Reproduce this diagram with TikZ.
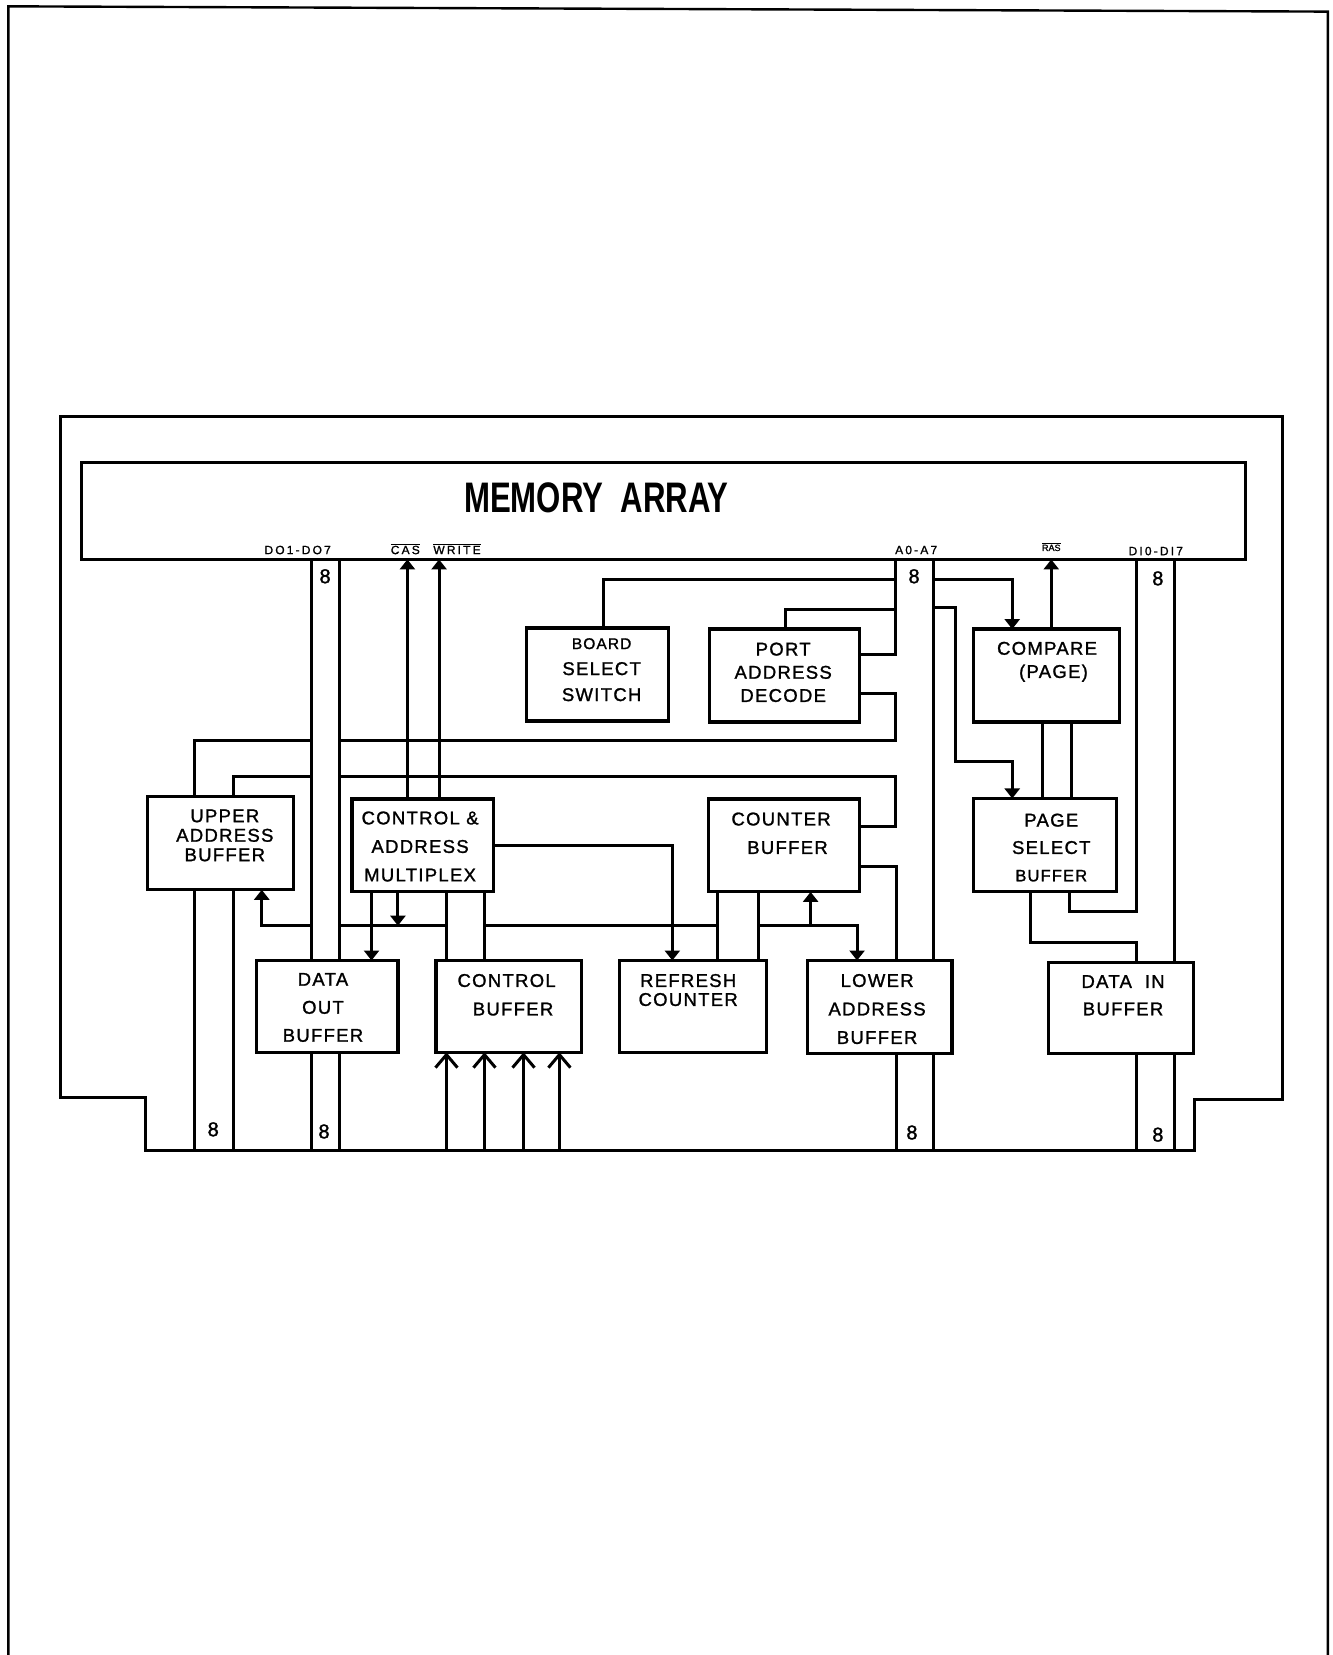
\documentclass[tikz,border=0pt]{standalone}
\usepackage{graphicx}
\usepackage{fontspec}
\setmainfont{Liberation Sans}
\newfontfamily\lblf{Liberation Sans}[LetterSpace=7,FakeBold=1.3]
\newfontfamily\smlf{Liberation Sans}[LetterSpace=18,FakeBold=1.2]
\newfontfamily\numf{Liberation Sans}[FakeBold=1.5]
\usetikzlibrary{arrows.meta}
\begin{document}
\begin{tikzpicture}[x=1.0555pt,y=-1.0555pt,
  wire/.style={line width=3pt, line join=miter},
  blk/.style={draw, line width=3.2pt, inner sep=0pt, outer sep=0pt},
  box/.style 2 args={blk, minimum width=#1*1.0555pt, minimum height=#2*1.0555pt},
  txt/.style={align=center, inner sep=0pt, font=\lblf\fontsize{18.5}{#1}\selectfont},
  sml/.style={inner sep=0pt, anchor=base, font=\smlf\fontsize{12}{12}\selectfont},
  eight/.style={inner sep=0pt, font=\numf\fontsize{20}{22}\selectfont},
  arr/.style={wire, -{Triangle[length=10pt,width=15pt]}},
  barb/.style={wire, -{Straight Barb[length=13pt,width=22pt,line width=3pt]}},
]
\useasboundingbox (0,0) rectangle (1262,1568);

% page frame
\draw[line width=2.4pt] (8,1568) -- (8,6) -- (1258,11) -- (1258,1568);
% board outline
\draw[wire] (57,1040) -- (57,395) -- (1215,395) -- (1215,1042) -- (1132,1042)
  -- (1132,1090) -- (138,1090) -- (138,1040) -- cycle;
\coordinate (bot) at (0,1090);

% blocks
\node[box={1103}{92}] (mem) at (628.5,484) {};
\node[box={134}{88}] (bss) at (566,639) {};
\node[box={142}{88}] (pad) at (743,640) {};
\node[box={139}{88}] (cmp) at (991.5,640) {};
\node[box={138}{88}] (uab) at (209,799) {};
\node[box={134}{88}] (cam) at (400.5,801) {};
\node[box={143}{88}] (cnt) at (742.5,801) {};
\node[box={136}{88}] (psb) at (990,800.5) {};
\node[box={134}{87}] (dob) at (310,953.5) {};
\node[box={138}{87}] (cbf) at (482,953.5) {};
\node[box={139}{87}] (rfc) at (656.5,953.5) {};
\node[box={137}{88}] (lab) at (833.5,954) {};
\node[box={138}{86}] (dib) at (1062,955) {};

% texts
\node[inner sep=0pt, font=\bfseries\fontsize{42.7}{44}\selectfont] (tmem) at (565,472) {\scalebox{0.73}[1]{MEMORY\ \ ARRAY}};
\node[txt=26pt] (tbss) at (570,634.5) {{\fontsize{15.5}{16}\selectfont BOARD}\\SELECT\\SWITCH};
\node[txt=23.2pt] (tpad) at (742,637) {PORT\\ADDRESS\\DECODE};
\node[txt=23.2pt] (tcmp) at (992,627) {COMPARE\\\ \ (PAGE)};
\node[txt=19.5pt] (tuab) at (213,791.5) {UPPER\\ADDRESS\\BUFFER};
\node[txt=28.5pt] (tcam) at (398,802) {CONTROL \&\\ADDRESS\\MULTIPLEX};
\node[txt=28.5pt] (tcnt) at (740,789.5) {COUNTER\\\ \ BUFFER};
\node[txt=27.4pt] (tpsb) at (996,803) {PAGE\\SELECT\\{\fontsize{16.5}{17}\selectfont BUFFER}};
\node[txt=28pt] (tdob) at (306,954.5) {DATA\\OUT\\BUFFER};
\node[txt=28.5pt] (tcbf) at (480,942.5) {CONTROL\\\ \ BUFFER};
\node[txt=19pt] (trfc) at (652,938) {REFRESH\\COUNTER};
\node[txt=28.5pt] (tlab) at (831,956) {LOWER\\ADDRESS\\BUFFER};
\node[txt=27.4pt] (tdib) at (1064,943) {DATA\ \ IN\\BUFFER};

% signal names at the memory array
\node[sml] (ldo) at (282,525) {DO1-DO7};
\node[sml] (lcas) at (384,525) {\(\overline{\mbox{CAS}}\)};
\node[sml] (lwr) at (433,525) {\(\overline{\mbox{WRITE}}\)};
\node[sml] (la) at (868,525) {A0-A7};
\node[sml, font=\numf\fontsize{9}{9}\selectfont] (lras) at (996,522) {\(\overline{\mbox{RAS}}\)};
\node[sml] (ldi) at (1095,526) {DI0-DI7};

% bus widths
\node[eight] (e1) at (308,546) {8};
\node[eight] (e2) at (866,546) {8};
\node[eight] (e3) at (1097,548) {8};
\node[eight] (e4) at (202,1070) {8};
\node[eight] (e5) at (307,1072) {8};
\node[eight] (e6) at (864,1073) {8};
\node[eight] (e7) at (1097,1075) {8};

% DO bus
\draw[wire] (295,0 |- mem.south) -- (295,0 |- dob.north);
\draw[wire] (322,0 |- mem.south) -- (322,0 |- dob.north);
\draw[wire] (295,0 |- dob.south) -- (295,0 |- bot);
\draw[wire] (322,0 |- dob.south) -- (322,0 |- bot);

% CAS / WRITE
\draw[arr] (386,0 |- cam.north) -- (386,0 |- mem.south);
\draw[arr] (416,0 |- cam.north) -- (416,0 |- mem.south);

% upper address buffer connections
\draw[wire] (pad.east |- 0,657) -- (848,657) -- (848,702) -- (322,702);
\draw[wire] (295,702) -- (184,702) -- (184,0 |- uab.north);
\draw[wire] (cnt.east |- 0,783) -- (848,783) -- (848,736) -- (322,736);
\draw[wire] (295,736) -- (221,736) -- (221,0 |- uab.north);
\draw[wire] (184,0 |- uab.south) -- (184,0 |- bot);
\draw[wire] (221,0 |- uab.south) -- (221,0 |- bot);

% lower horizontal line at 877
\draw[arr] (295,877) -- (248,877) -- (248,0 |- uab.south);
\draw[wire] (322,877) -- (423,877);
\draw[wire] (459,877) -- (680,877);
\draw[arr] (719,877) -- (812,877) -- (812,0 |- lab.north);
\draw[arr] (768,877) -- (768,0 |- cnt.south);

% control & address multiplex outputs
\draw[arr] (352,0 |- cam.south) -- (352,0 |- dob.north);
\draw[arr] (377,0 |- cam.south) -- (377,877);
\draw[wire] (423,0 |- cam.south) -- (423,0 |- cbf.north);
\draw[wire] (459,0 |- cam.south) -- (459,0 |- cbf.north);
\draw[arr] (cam.east |- 0,801) -- (637,801) -- (637,0 |- rfc.north);

% control buffer inputs
\foreach \xx in {423,459,496,530}
  \draw[barb] (\xx,0 |- bot) -- (\xx,0 |- cbf.south);

% counter buffer
\draw[wire] (680,0 |- cnt.south) -- (680,0 |- rfc.north);
\draw[wire] (719,0 |- cnt.south) -- (719,0 |- rfc.north);
\draw[wire] (cnt.east |- 0,821) -- (849,821) -- (849,0 |- lab.north);

% address bus
\draw[wire] (848,0 |- mem.south) -- (848,620) -- (pad.east |- 0,620);
\draw[wire] (bss.north -| 572,0) -- (572,549) -- (848,549);
\draw[wire] (pad.north -| 744,0) -- (744,577) -- (848,577);
\draw[wire] (884,0 |- mem.south) -- (884,0 |- lab.north);
\draw[wire] (849,0 |- lab.south) -- (849,0 |- bot);
\draw[wire] (884,0 |- lab.south) -- (884,0 |- bot);

% compare / page select
\draw[arr] (884,549) -- (959,549) -- (959,0 |- cmp.north);
\draw[arr] (884,576) -- (905,576) -- (905,721) -- (959,721) -- (959,0 |- psb.north);
\draw[arr] (996,0 |- cmp.north) -- (996,0 |- mem.south);
\draw[wire] (988,0 |- cmp.south) -- (988,0 |- psb.north);
\draw[wire] (1015,0 |- cmp.south) -- (1015,0 |- psb.north);
\draw[wire] (1013,0 |- psb.south) -- (1013,864) -- (1077,864) -- (1077,0 |- mem.south);
\draw[wire] (976,0 |- psb.south) -- (976,893) -- (1077,893) -- (1077,0 |- dib.north);
\draw[wire] (1113,0 |- mem.south) -- (1113,0 |- dib.north);
\draw[wire] (1077,0 |- dib.south) -- (1077,0 |- bot);
\draw[wire] (1113,0 |- dib.south) -- (1113,0 |- bot);
\end{tikzpicture}
\end{document}
